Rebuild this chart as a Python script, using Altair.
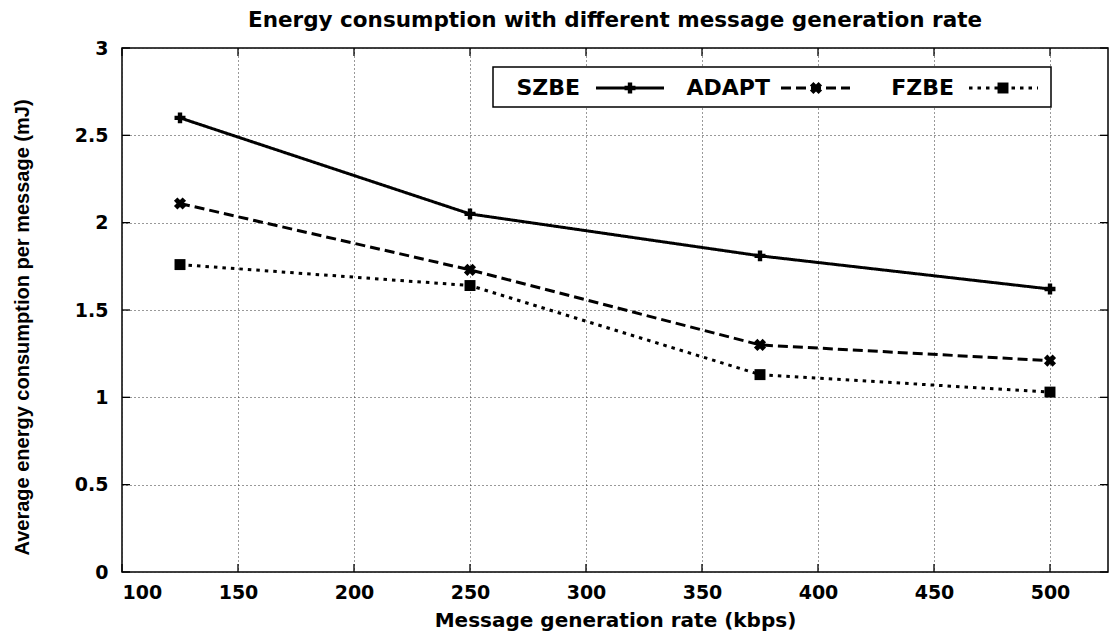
import altair as alt
import pandas as pd

# ---- data ----
rates = [125, 250, 375, 500]
szbe = [2.60, 2.05, 1.81, 1.62]
adapt = [2.11, 1.73, 1.30, 1.21]
fzbe = [1.76, 1.64, 1.13, 1.03]
series = ["SZBE", "ADAPT", "FZBE"]
x_ticks = [100, 150, 200, 250, 300, 350, 400, 450, 500]
y_ticks = [0, 0.5, 1, 1.5, 2, 2.5, 3]

X_DOMAIN = [100, 525]
Y_DOMAIN = [0, 3]
W, H = 986, 524

HFONT = "DejaVu Sans"
VFONT = "Liberation Sans"

values = {"SZBE": szbe, "ADAPT": adapt, "FZBE": fzbe}
rows = []
for s in series:
    for r, v in zip(rates, values[s]):
        rows.append({"series": s, "rate": r, "energy": v})
df = pd.DataFrame(rows)

xscale = alt.Scale(domain=X_DOMAIN, nice=False, zero=False)
yscale = alt.Scale(domain=Y_DOMAIN, nice=False)
XTITLE = "Message generation rate (kbps)"
YTITLE = "Average energy consumption per message (mJ)"

xaxis = alt.Axis(
    values=x_ticks, grid=True, gridDash=[1, 3], gridColor="#333", gridWidth=1,
    ticks=False, domain=False, labelFont=HFONT, labelFontSize=19, labelFontWeight="bold",
    labelColor="black", labelPadding=11, title=XTITLE, titleFont=HFONT,
    titleFontSize=20, titleFontWeight="bold", titleColor="black", titlePadding=8,
)
yaxis = alt.Axis(
    values=y_ticks, grid=True, gridDash=[1, 3], gridColor="#333", gridWidth=1,
    ticks=False, domain=False, format="~g", labelFont=HFONT, labelFontSize=19,
    labelFontWeight="bold", labelColor="black", labelPadding=14, title=YTITLE,
    titleFont=VFONT, titleFontSize=20, titleFontWeight="bold", titleColor="black",
    titleX=-100, titleY=279, titleAngle=270, titleBaseline="middle", titleAlign="center",
)


def xe(field):
    return alt.X(field, type="quantitative", scale=xscale, axis=xaxis)


def ye(field):
    return alt.Y(field, type="quantitative", scale=yscale, axis=yaxis)


styles = {
    "SZBE": dict(dash=[1, 0], shape="cross", angle=0, size=120),
    "ADAPT": dict(dash=[10, 5], shape="cross", angle=45, size=150),
    "FZBE": dict(dash=[3.5, 5], shape="square", angle=0, size=120),
}

layers = []
for s in series:
    st = styles[s]
    sub = alt.Chart(df).transform_filter(alt.datum.series == s)
    layers.append(
        sub.mark_line(color="black", strokeWidth=3, strokeDash=st["dash"]).encode(
            x=xe("rate"), y=ye("energy")
        )
    )
    layers.append(
        sub.mark_point(
            color="black", filled=True, opacity=1, shape=st["shape"], angle=st["angle"],
            size=st["size"],
        ).encode(x=xe("rate"), y=ye("energy"))
    )

# inward tick marks on all four sides
tx = 8.0 / W * (X_DOMAIN[1] - X_DOMAIN[0])
ty = 8.0 / H * (Y_DOMAIN[1] - Y_DOMAIN[0])
xt = pd.DataFrame({"t": x_ticks})
yt = pd.DataFrame({"t": y_ticks})
tick_style = dict(color="black", strokeWidth=1.3)
layers.append(
    alt.Chart(xt).transform_calculate(a=f"{Y_DOMAIN[0]}", b=f"{Y_DOMAIN[0] + ty}")
    .mark_rule(**tick_style).encode(x=xe("t"), y=ye("a"), y2="b:Q")
)
layers.append(
    alt.Chart(xt).transform_calculate(a=f"{Y_DOMAIN[1]}", b=f"{Y_DOMAIN[1] - ty}")
    .mark_rule(**tick_style).encode(x=xe("t"), y=ye("a"), y2="b:Q")
)
layers.append(
    alt.Chart(yt).transform_calculate(a=f"{X_DOMAIN[0]}", b=f"{X_DOMAIN[0] + tx}")
    .mark_rule(**tick_style).encode(y=ye("t"), x=xe("a"), x2="b:Q")
)
layers.append(
    alt.Chart(yt).transform_calculate(a=f"{X_DOMAIN[1]}", b=f"{X_DOMAIN[1] - tx}")
    .mark_rule(**tick_style).encode(y=ye("t"), x=xe("a"), x2="b:Q")
)

# legend box (inside the plot, gnuplot style: label then sample)
one = alt.Data(values=[{}])
layers.append(
    alt.Chart(one).mark_rect(fill="white", stroke="black", strokeWidth=1.5).encode(
        x=alt.value(371), x2=alt.value(929), y=alt.value(19), y2=alt.value(59)
    )
)
legend_pos = {
    "SZBE": dict(text_right=458, l0=474, l1=542, m=508),
    "ADAPT": dict(text_right=648, l0=659, l1=728, m=694),
    "FZBE": dict(text_right=832, l0=847, l1=916, m=881),
}
LY = 40
for s in series:
    p = legend_pos[s]
    st = styles[s]
    layers.append(
        alt.Chart(one).mark_text(
            align="right", baseline="middle", font=HFONT, fontSize=22, fontWeight="bold",
            color="black",
        ).encode(x=alt.value(p["text_right"]), y=alt.value(LY), text=alt.value(s))
    )
    layers.append(
        alt.Chart(one).mark_rule(color="black", strokeWidth=3, strokeDash=st["dash"]).encode(
            x=alt.value(p["l0"]), x2=alt.value(p["l1"]), y=alt.value(LY)
        )
    )
    layers.append(
        alt.Chart(one).mark_point(
            color="black", filled=True, opacity=1, shape=st["shape"], angle=st["angle"],
            size=st["size"],
        ).encode(x=alt.value(p["m"]), y=alt.value(LY))
    )

chart = (
    alt.layer(*layers)
    .properties(
        width=W,
        height=H,
        title=alt.TitleParams(
            "Energy consumption with different message generation rate",
            font=HFONT, fontSize=21.5, fontWeight="bold", color="black", anchor="middle",
            offset=8,
        ),
        autosize=alt.AutoSizeParams(type="none"),
        padding={"left": 122, "top": 48, "right": 2, "bottom": 61},
        background="white",
    )
    .configure_view(stroke="black", strokeWidth=1.5)
)

chart.save("out.html", embed_options={"renderer": "svg", "actions": False})
